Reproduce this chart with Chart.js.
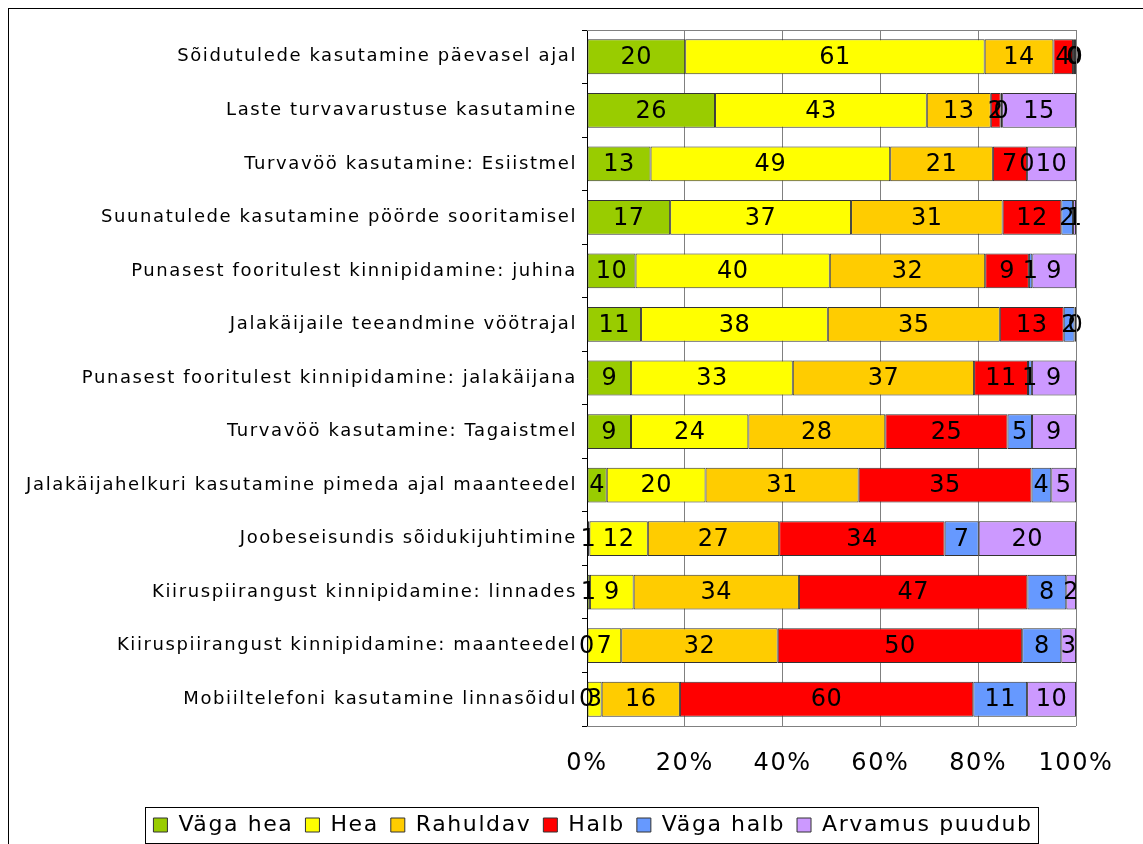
<!DOCTYPE html>
<html>
<head>
<meta charset="utf-8">
<script src="https://cdn.jsdelivr.net/npm/chart.js@4/dist/chart.umd.min.js"></script>
<style>
  html, body { margin: 0; padding: 0; background: #fff; }
  #wrap { width: 1143px; height: 844px; position: relative; }
</style>
</head>
<body>
<div id="wrap"><canvas id="chart" width="1143" height="844"></canvas></div>
<script>
const categories = [
  "Sõidutulede kasutamine päevasel ajal",
  "Laste turvavarustuse kasutamine",
  "Turvavöö kasutamine: Esiistmel",
  "Suunatulede kasutamine pöörde sooritamisel",
  "Punasest fooritulest kinnipidamine: juhina",
  "Jalakäijaile teeandmine vöötrajal",
  "Punasest fooritulest kinnipidamine: jalakäijana",
  "Turvavöö kasutamine: Tagaistmel",
  "Jalakäijahelkuri kasutamine pimeda ajal maanteedel",
  "Joobeseisundis sõidukijuhtimine",
  "Kiiruspiirangust kinnipidamine: linnades",
  "Kiiruspiirangust kinnipidamine: maanteedel",
  "Mobiiltelefoni kasutamine linnasõidul"
];

const seriesNames = ["Väga hea", "Hea", "Rahuldav", "Halb", "Väga halb", "Arvamus puudub"];
const seriesColors = ["#99CC00", "#FFFF00", "#FFCC00", "#FF0000", "#6699FF", "#CC99FF"];

const vagaHea      = [20, 26, 13, 17, 10, 11,  9,  9,  4, 0.5, 0.6,  0,  0];
const hea          = [61, 43, 49, 37, 40, 38, 33, 24, 20, 12,  9,  7,  3];
const rahuldav     = [14, 13, 21, 31, 32, 35, 37, 28, 31, 27, 34, 32, 16];
const halb         = [ 4,  2,  7, 12,  9, 13, 11, 25, 35, 34, 47, 50, 60];
const vagaHalb     = [0.4, 0.3, 0, 2.4, 0.7, 2.2, 0.8, 5,  4,  7,  8,  8, 11];
const arvamusPuudub= [0.2, 15, 10, 0.6, 9, 0.3,  9,  9,  5, 20, 2,  3, 10];

const tickLabels = ["0%", "20%", "40%", "60%", "80%", "100%"];

const rawSeries = [vagaHea, hea, rahuldav, halb, vagaHalb, arvamusPuudub];
const rowTotals = categories.map((_, i) => rawSeries.reduce((s, arr) => s + arr[i], 0));

const datasets = rawSeries.map((arr, k) => ({
  label: seriesNames[k],
  data: arr.map((v, i) => v / rowTotals[i] * 100),
  raw: arr,
  backgroundColor: seriesColors[k],
  borderColor: "#333333",
  borderWidth: 1,
  borderSkipped: false,
  barPercentage: 0.65,
  categoryPercentage: 1.0
}));

const FONT = "'DejaVu Sans', Verdana, sans-serif";
const SPACING = "1.6px";

// the original text is a bit letter-spaced, chart.js has no option for it
const spacingPlugin = {
  id: "spacing",
  beforeLayout(chart) { chart.ctx.letterSpacing = SPACING; },
  afterLayout(chart) {
    // legend sits a bit right of the centre in the original
    const lg = chart.legend;
    lg.left += 55; lg.right += 55;
    lg.top += 4; lg.bottom += 4;
  },
  beforeDraw(chart) { chart.ctx.letterSpacing = SPACING; }
};

const labelPlugin = {
  id: "barLabels",
  afterDatasetsDraw(chart) {
    const ctx = chart.ctx;
    ctx.save();
    ctx.letterSpacing = "0.5px";
    ctx.font = "24px " + FONT;
    ctx.fillStyle = "#000";
    ctx.textAlign = "center";
    ctx.textBaseline = "middle";
    chart.data.datasets.forEach((ds, k) => {
      const meta = chart.getDatasetMeta(k);
      meta.data.forEach((bar, i) => {
        const x = (bar.x + bar.base) / 2;
        ctx.fillText(String(Math.round(ds.raw[i])), x, bar.y + 1);
      });
    });
    ctx.restore();
  }
};

const framePlugin = {
  id: "frames",
  afterDraw(chart) {
    const ctx = chart.ctx;
    const a = chart.chartArea;
    ctx.save();
    ctx.strokeStyle = "#000";
    ctx.lineWidth = 1;
    ctx.strokeRect(8.5, 8.5, 1160, 860);
    ctx.strokeStyle = "#808080";
    ctx.beginPath();
    ctx.moveTo(a.left, a.top + 0.5);
    ctx.lineTo(a.right, a.top + 0.5);
    ctx.moveTo(a.right + 0.5, a.top);
    ctx.lineTo(a.right + 0.5, a.bottom);
    ctx.moveTo(a.left, a.bottom + 0.5);
    ctx.lineTo(a.right, a.bottom + 0.5);
    ctx.stroke();
    const boxes = chart.legend.legendHitBoxes;
    if (boxes && boxes.length) {
      let l = Math.min(...boxes.map(b => b.left));
      let r = Math.max(...boxes.map(b => b.left + b.width));
      let t = Math.min(...boxes.map(b => b.top));
      let btm = Math.max(...boxes.map(b => b.top + b.height));
      ctx.strokeStyle = "#000";
      ctx.strokeRect(Math.round(l - 8) + 0.5, Math.round(t - 7) + 0.5, Math.round(r - l + 14), Math.round(btm - t + 14));
    }
    ctx.restore();
  }
};

new Chart(document.getElementById("chart"), {
  type: "bar",
  data: { labels: categories, datasets: datasets },
  options: {
    indexAxis: "y",
    responsive: false,
    animation: false,
    layout: { padding: { left: 0, right: 67, top: 30, bottom: 2 } },
    scales: {
      x: {
        stacked: true,
        min: 0,
        max: 100,
        ticks: {
          stepSize: 20,
          color: "#000",
          font: { family: FONT, size: 24 },
          padding: 23,
          callback: (v) => tickLabels[Math.round(v / 20)]
        },
        grid: { color: "#808080", drawTicks: false },
        border: { display: false },
        afterFit(scale) { scale.height = 72; }
      },
      y: {
        stacked: true,
        ticks: {
          color: "#000",
          font: { family: FONT, size: 18 },
          padding: 5,
          autoSkip: false
        },
        grid: { offset: true, drawOnChartArea: false, drawTicks: true, tickLength: 5, color: "#000" },
        border: { display: true, color: "#000" },
        afterFit(scale) { scale.width = 587; }
      }
    },
    plugins: {
      tooltip: { enabled: false },
      legend: {
        position: "bottom",
        labels: {
          color: "#000",
          font: { family: FONT, size: 22 },
          boxWidth: 14,
          boxHeight: 14,
          padding: 12
        }
      }
    }
  },
  plugins: [spacingPlugin, labelPlugin, framePlugin]
});
</script>
</body>
</html>
